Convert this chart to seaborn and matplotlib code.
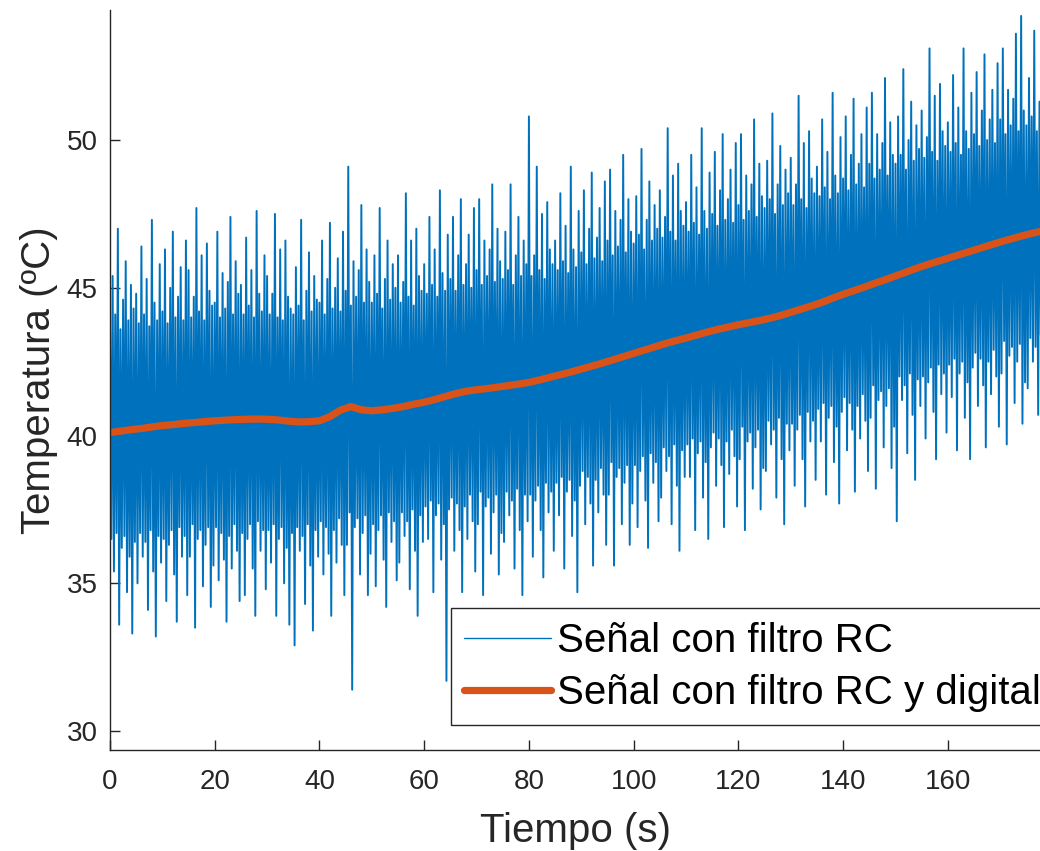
import numpy as np
import matplotlib
matplotlib.use("Agg")
import matplotlib.pyplot as plt
import seaborn as sns

# Raw signal after the analog RC filter: local peak / trough pairs,
# one pair every 0.5 s (peak at t, trough at t + 0.25 s)
rc_peaks = [
    43.8, 45.4, 44.1, 47.0, 43.6, 44.6, 45.9, 43.9, 45.1, 44.3,
    44.8, 43.8, 46.4, 44.1, 45.3, 43.7, 47.3, 44.5, 43.9, 45.8,
    44.2, 46.3, 43.8, 45.0, 46.9, 44.0, 44.7, 45.7, 43.9, 46.6,
    45.6, 44.0, 44.7, 47.7, 44.2, 46.1, 43.9, 46.5, 44.9, 44.4,
    44.5, 46.9, 44.0, 45.5, 44.3, 45.2, 47.4, 44.1, 45.9, 44.8,
    45.1, 44.1, 46.7, 44.4, 45.6, 44.0, 47.6, 44.8, 44.2, 46.1,
    45.4, 44.1, 44.8, 47.5, 44.0, 46.3, 43.9, 46.6, 44.7, 44.3,
    44.1, 45.7, 44.4, 47.3, 43.9, 44.9, 46.2, 44.2, 45.4, 44.6,
    44.5, 46.6, 44.1, 45.3, 47.2, 44.3, 45.0, 46.0, 44.2, 46.9,
    44.9, 49.1, 44.4, 45.9, 44.7, 45.6, 47.8, 44.5, 46.3, 45.2,
    44.5, 46.1, 44.8, 47.7, 44.3, 45.3, 46.6, 44.6, 45.8, 45.0,
    46.1, 44.5, 45.2, 48.2, 44.7, 46.6, 44.4, 47.0, 45.4, 44.9,
    45.8, 44.8, 47.4, 45.1, 46.3, 44.7, 48.3, 45.5, 44.9, 46.8,
    45.3, 47.4, 44.9, 46.1, 48.0, 45.1, 45.8, 46.8, 45.0, 47.7,
    45.6, 48.0, 45.1, 46.6, 45.4, 46.3, 48.5, 45.2, 47.0, 45.9,
    45.3, 46.9, 45.6, 48.5, 45.1, 46.1, 47.4, 45.4, 46.6, 45.8,
    50.8, 45.4, 46.1, 49.1, 45.6, 47.5, 45.3, 47.9, 46.3, 45.8,
    46.6, 45.6, 48.2, 45.9, 47.1, 45.5, 49.1, 46.3, 45.7, 47.6,
    46.2, 48.3, 45.8, 47.0, 48.9, 46.0, 46.7, 47.7, 45.9, 48.6,
    46.6, 49.0, 46.1, 47.6, 46.4, 47.3, 49.5, 46.2, 48.0, 46.9,
    46.5, 48.1, 46.8, 49.7, 46.3, 47.3, 48.6, 46.6, 47.8, 47.0,
    48.3, 46.7, 47.4, 50.4, 46.9, 48.8, 46.6, 49.2, 47.6, 47.1,
    47.9, 46.9, 49.5, 47.2, 48.4, 46.8, 50.4, 47.6, 47.0, 48.9,
    47.5, 49.6, 47.1, 48.3, 50.2, 47.3, 48.0, 49.0, 47.2, 49.9,
    47.8, 50.2, 47.3, 48.8, 47.6, 48.5, 50.7, 47.4, 49.2, 48.1,
    47.7, 49.3, 48.0, 50.9, 47.5, 48.5, 49.8, 47.8, 49.0, 48.2,
    49.4, 47.8, 48.5, 51.5, 48.0, 49.9, 47.7, 50.3, 48.7, 48.2,
    49.1, 48.1, 50.7, 48.4, 49.6, 48.0, 51.6, 48.8, 48.2, 50.1,
    48.7, 50.8, 48.3, 49.5, 51.4, 48.5, 49.2, 50.2, 48.4, 51.1,
    49.2, 51.6, 48.7, 50.2, 49.0, 49.9, 52.1, 48.8, 50.6, 49.5,
    49.2, 50.8, 49.5, 52.4, 49.0, 50.0, 51.3, 49.3, 50.5, 49.7,
    51.0, 49.4, 50.1, 53.1, 49.6, 51.5, 49.3, 51.9, 50.3, 49.8,
    50.6, 49.6, 52.2, 49.9, 51.1, 49.5, 53.1, 50.3, 49.7, 51.6,
    50.2, 52.3, 49.8, 51.0, 52.9, 50.0, 50.7, 51.7, 49.9, 52.6,
    50.7, 53.1, 50.2, 51.7, 50.5, 51.4, 53.6, 50.3, 54.2, 51.0,
    50.5, 52.1, 50.8, 53.7, 50.3, 51.3,
]
rc_troughs = [
    36.5, 35.4, 36.7, 33.6, 36.2, 36.6, 34.7, 35.9, 33.3, 36.4,
    35.0, 36.7, 35.9, 36.4, 34.1, 36.8, 35.4, 33.2, 36.6, 35.7,
    36.5, 34.4, 36.3, 36.8, 35.3, 33.7, 36.9, 35.9, 36.6, 34.6,
    35.9, 37.0, 33.5, 36.5, 36.8, 34.9, 36.3, 36.9, 34.2, 35.6,
    36.9, 35.1, 36.7, 35.8, 33.7, 36.6, 35.5, 37.0, 36.1, 34.4,
    36.7, 34.6, 36.5, 37.0, 35.5, 33.9, 37.1, 36.1, 36.8, 34.8,
    36.8, 35.7, 37.0, 33.9, 36.5, 36.9, 35.0, 36.2, 33.6, 36.7,
    32.9, 36.9, 36.1, 36.6, 34.3, 37.0, 35.6, 33.4, 36.8, 35.9,
    37.1, 35.3, 36.9, 36.0, 33.9, 36.8, 35.7, 37.2, 36.3, 34.6,
    36.3, 37.4, 31.4, 36.9, 37.2, 35.3, 36.7, 37.3, 34.6, 36.0,
    37.0, 34.9, 36.8, 37.3, 35.8, 34.2, 37.4, 36.4, 37.1, 35.1,
    35.7, 37.4, 36.6, 37.1, 34.8, 37.5, 36.1, 33.9, 37.3, 36.4,
    37.6, 36.5, 37.8, 34.7, 37.3, 37.7, 35.8, 37.0, 31.7, 37.5,
    37.9, 36.1, 37.7, 36.8, 34.7, 37.6, 36.5, 38.0, 37.1, 35.4,
    37.0, 38.1, 34.6, 37.6, 37.9, 36.0, 37.4, 38.0, 35.3, 36.7,
    36.4, 38.1, 37.3, 37.8, 35.5, 38.2, 36.8, 34.6, 38.0, 37.1,
    38.0, 35.9, 37.8, 38.3, 36.8, 35.2, 38.4, 37.4, 38.1, 36.1,
    38.4, 37.3, 38.6, 35.5, 38.1, 38.5, 36.6, 37.8, 34.7, 38.3,
    38.8, 37.0, 38.6, 37.7, 35.6, 38.5, 37.4, 38.9, 38.0, 36.3,
    38.0, 39.1, 35.6, 38.6, 38.9, 37.0, 38.4, 39.0, 36.3, 37.7,
    39.0, 36.9, 38.8, 39.3, 37.8, 36.2, 39.4, 38.4, 39.1, 37.1,
    37.9, 39.6, 38.8, 39.3, 37.0, 39.7, 38.3, 36.1, 39.5, 38.6,
    39.7, 38.6, 39.9, 36.8, 39.4, 39.8, 37.9, 39.1, 36.5, 39.6,
    40.1, 38.3, 39.9, 39.0, 36.9, 39.8, 38.7, 40.2, 39.3, 37.6,
    39.2, 40.3, 36.8, 39.8, 40.1, 38.2, 39.6, 40.2, 37.5, 38.9,
    38.8, 40.5, 39.7, 40.2, 37.9, 40.6, 39.2, 37.0, 40.4, 39.5,
    40.4, 38.3, 40.2, 40.7, 39.2, 37.6, 40.8, 39.8, 40.5, 38.5,
    40.9, 39.8, 41.1, 38.0, 40.6, 41.0, 39.1, 40.3, 37.7, 40.8,
    41.3, 39.5, 41.1, 40.2, 38.1, 41.0, 39.9, 41.4, 40.5, 38.8,
    40.6, 41.7, 38.2, 41.2, 41.5, 39.6, 41.0, 41.6, 38.9, 40.3,
    37.1, 42.0, 41.2, 41.7, 39.4, 42.1, 40.7, 38.5, 41.9, 41.0,
    42.0, 39.9, 41.8, 42.3, 40.8, 39.2, 42.4, 41.4, 42.1, 40.1,
    42.4, 41.3, 42.6, 39.5, 42.1, 42.5, 40.6, 41.8, 39.2, 42.3,
    42.8, 41.0, 42.6, 41.7, 39.6, 42.5, 41.4, 42.9, 42.0, 40.3,
    42.1, 43.2, 39.7, 42.7, 43.0, 41.1, 42.5, 43.1, 40.4, 41.8,
    41.6, 43.3, 42.5, 43.0, 40.7, 43.4,
]

# Signal after the RC filter plus the digital filter, one value every 2 s
digital = [
    40.10, 40.15, 40.20, 40.24, 40.29, 40.34, 40.37, 40.41, 40.44, 40.47,
    40.50, 40.52, 40.54, 40.55, 40.56, 40.55, 40.53, 40.49, 40.46, 40.47,
    40.50, 40.64, 40.86, 40.98, 40.87, 40.84, 40.87, 40.92, 40.98, 41.06,
    41.13, 41.22, 41.32, 41.42, 41.50, 41.55, 41.59, 41.64, 41.69, 41.74,
    41.80, 41.88, 41.97, 42.06, 42.15, 42.25, 42.35, 42.45, 42.56, 42.67,
    42.78, 42.89, 43.00, 43.11, 43.21, 43.30, 43.40, 43.50, 43.59, 43.67,
    43.75, 43.82, 43.89, 43.97, 44.06, 44.17, 44.28, 44.39, 44.51, 44.65,
    44.78, 44.90, 45.02, 45.15, 45.27, 45.40, 45.53, 45.66, 45.78, 45.89,
    46.00, 46.11, 46.22, 46.33, 46.44, 46.55, 46.65, 46.75, 46.84, 46.92,
]

x_ticks = [0, 20, 40, 60, 80, 100, 120, 140, 160]
y_ticks = [30, 35, 40, 45, 50]

label_rc = "Señal con filtro RC"
label_dig = "Señal con filtro RC y digital"
x_label = "Tiempo (s)"
y_label = "Temperatura (ºC)"

# Interleave peaks and troughs into one time series (0.25 s sampling)
n = min(len(rc_peaks), len(rc_troughs))
rc_signal = np.empty(2 * n)
rc_signal[0::2] = rc_peaks[:n]
rc_signal[1::2] = rc_troughs[:n]
t_rc = np.arange(2 * n) * 0.25
t_dig = np.arange(len(digital)) * 2.0

sns.set_theme(style="white")
plt.rcParams["font.family"] = ["Liberation Sans", "DejaVu Sans"]

BLUE = "#0072BD"
ORANGE = "#D95319"
AXIS = "#262626"

fig = plt.figure(figsize=(10.4, 8.51), dpi=100)
ax = fig.add_axes([110 / 1040, 1 - 750 / 851, 1 - 110 / 1040, (750 - 10) / 851])

sns.lineplot(x=t_rc, y=rc_signal, ax=ax, color=BLUE, linewidth=1.4,
             estimator=None, sort=False, label=label_rc, legend=False)
sns.lineplot(x=t_dig, y=digital, ax=ax, color=ORANGE, linewidth=5.2,
             estimator=None, sort=False, label=label_dig, legend=False)

ax.set_xlim(0, 177.6)
ax.set_ylim(29.36, 54.4)
ax.set_xticks(x_ticks)
ax.set_yticks(y_ticks)
ax.set_xlabel(x_label, fontsize=29, color=AXIS, labelpad=12)
ax.set_ylabel(y_label, fontsize=29, color=AXIS, labelpad=6)

for side in ("top", "right"):
    ax.spines[side].set_visible(False)
for side in ("left", "bottom"):
    ax.spines[side].set_color(AXIS)
    ax.spines[side].set_linewidth(1.0)
ax.tick_params(axis="both", direction="in", length=7, width=1.0,
               color=AXIS, labelcolor=AXIS, labelsize=20,
               left=True, bottom=True)
ax.tick_params(axis="x", pad=14)
ax.tick_params(axis="y", pad=9)

handles = [
    plt.Line2D([], [], color=BLUE, linewidth=1.0),
    plt.Line2D([], [], color=ORANGE, linewidth=5.2),
]
leg = ax.legend(handles, [label_rc, label_dig], loc="lower left",
                bbox_to_anchor=(451 / 1040, 1 - 725 / 851),
                bbox_transform=fig.transFigure, fontsize=29,
                frameon=True, fancybox=False, framealpha=1,
                edgecolor=AXIS, handlelength=2.15, handletextpad=0.15,
                borderpad=0.33, labelspacing=0.35, borderaxespad=0)
leg.get_frame().set_linewidth(1.0)
for txt in leg.get_texts():
    txt.set_color("black")

fig.savefig("out.png", dpi=100)
